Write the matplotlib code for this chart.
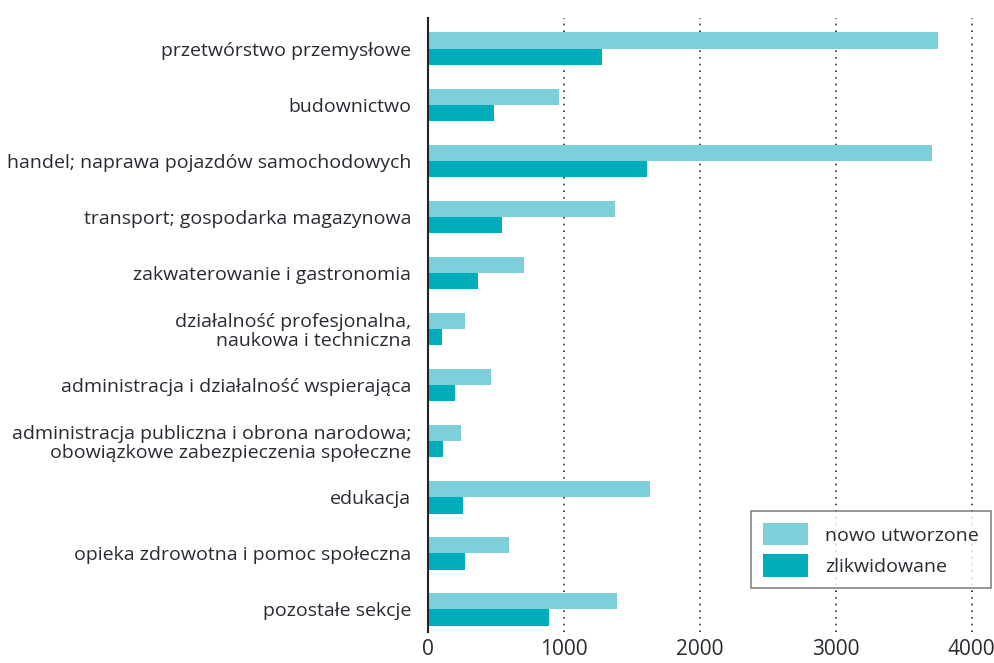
import numpy as np
import matplotlib.pyplot as plt

# Sections of the economy (top to bottom)
CATEGORIES = [
    "przetwórstwo przemysłowe",
    "budownictwo",
    "handel; naprawa pojazdów samochodowych",
    "transport; gospodarka magazynowa",
    "zakwaterowanie i gastronomia",
    "działalność profesjonalna,\nnaukowa i techniczna",
    "administracja i działalność wspierająca",
    "administracja publiczna i obrona narodowa;\nobowiązkowe zabezpieczenia społeczne",
    "edukacja",
    "opieka zdrowotna i pomoc społeczna",
    "pozostałe sekcje",
]
NEW = [3755, 966, 3711, 1376, 710, 271, 461, 242, 1632, 600, 1391]
CLOSED = [1281, 483, 1610, 549, 366, 102, 198, 110, 256, 271, 893]
X_TICKS = [0, 1000, 2000, 3000, 4000]

LIGHT = "#7dcfd9"
DARK = "#00aebb"
TEXT = "#2a2a33"

plt.rcParams["font.family"] = ["Open Sans", "DejaVu Sans"]

fig = plt.figure(figsize=(9.95, 6.63), dpi=100)
ax = fig.add_axes([0.430, 0.047, 0.563, 0.926])

y = np.arange(len(CATEGORIES))
h = 0.29
ax.barh(y - h / 2, NEW, height=h, color=LIGHT, label="nowo utworzone", zorder=3)
ax.barh(y + h / 2, CLOSED, height=h, color=DARK, label="zlikwidowane", zorder=3)

ax.set_xlim(0, 4120)
ax.set_ylim(10.4, -0.55)
ax.set_yticks(y)
ax.set_yticklabels(CATEGORIES, fontsize=14, color=TEXT, linespacing=1.05)
ax.set_xticks(X_TICKS)
ax.set_xticklabels([str(t) for t in X_TICKS], fontsize=15, color=TEXT)
ax.tick_params(axis="both", length=0)
ax.tick_params(axis="y", pad=12)
ax.tick_params(axis="x", pad=5)

for s in ["top", "right", "bottom"]:
    ax.spines[s].set_visible(False)
ax.spines["left"].set_color("#222222")
ax.spines["left"].set_linewidth(1.5)
ax.spines["left"].set_zorder(4)

for t in X_TICKS[1:]:
    ax.axvline(t, color="#333333", linestyle=(0, (1, 3)), linewidth=1.2, zorder=1)

leg = ax.legend(loc="lower right", bbox_to_anchor=(1.022, 0.055), fontsize=14,
                frameon=True, fancybox=False, edgecolor="#666666",
                handlelength=2.3, handleheight=1.4, borderpad=0.6, labelspacing=0.45,
                handletextpad=0.9)
leg.get_frame().set_linewidth(1.2)
for txt in leg.get_texts():
    txt.set_color(TEXT)

fig.savefig("out.png", dpi=100)
